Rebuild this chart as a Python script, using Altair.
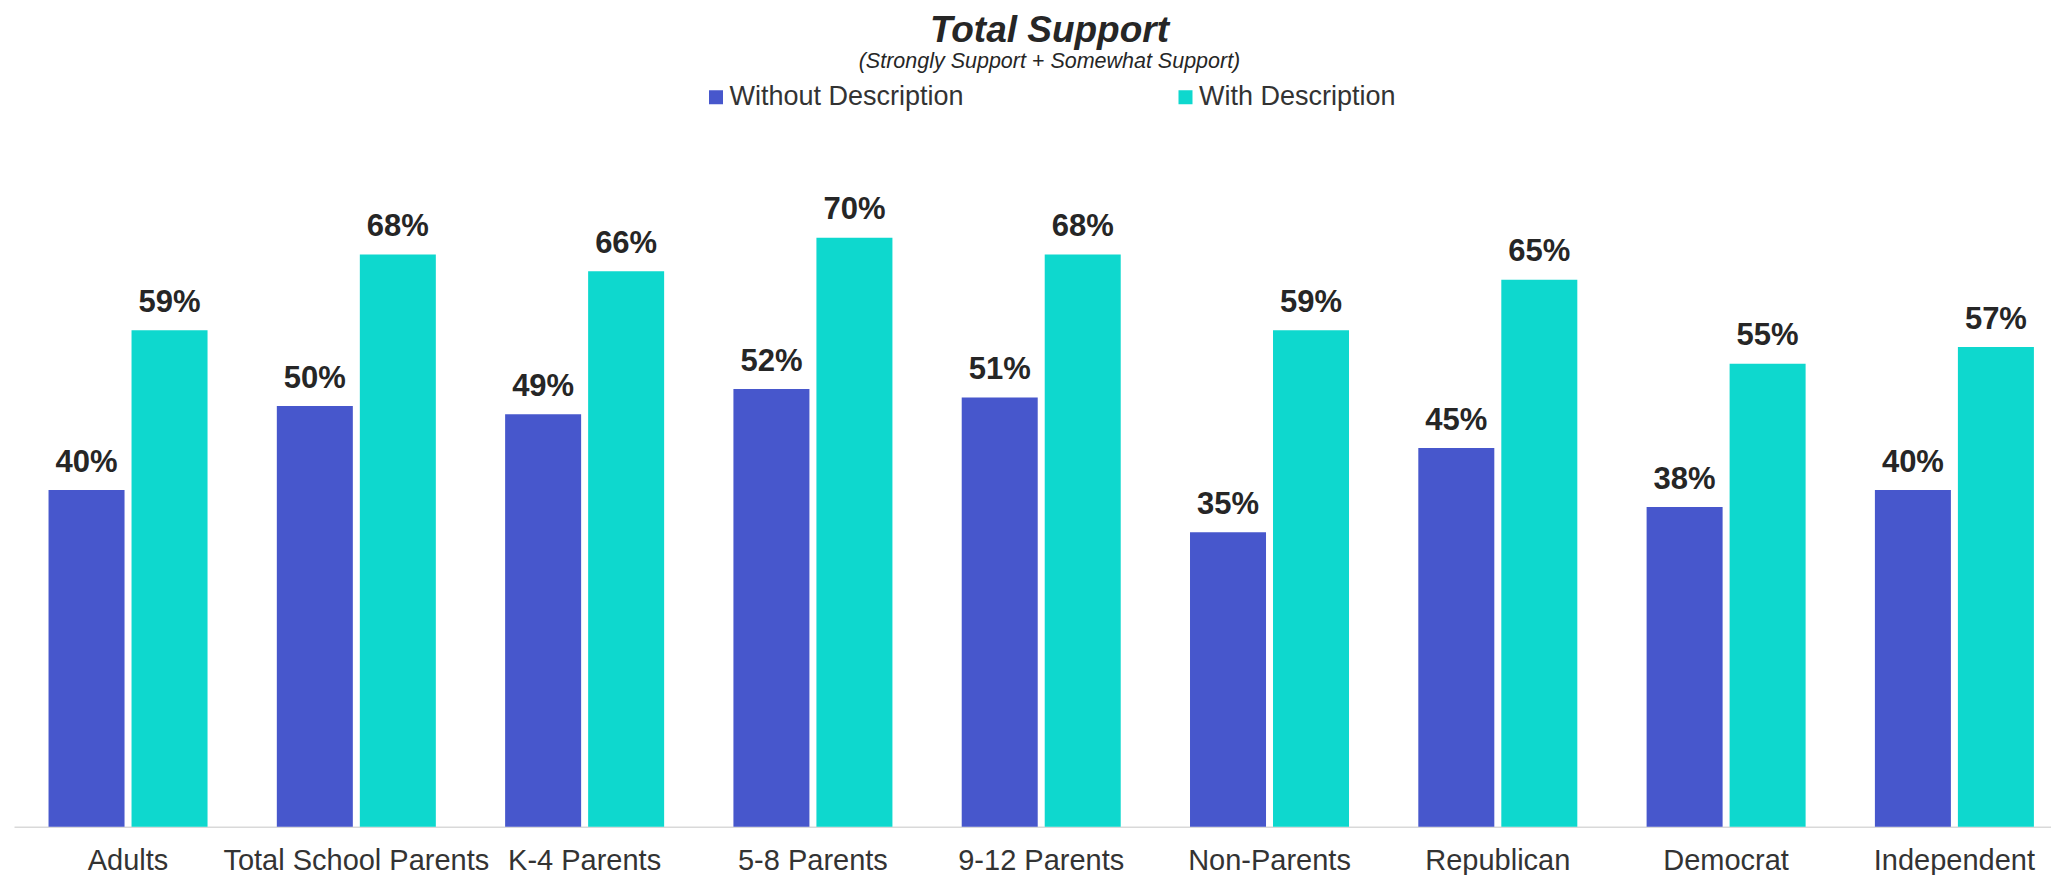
import altair as alt
import pandas as pd

categories = ["Adults", "Total School Parents", "K-4 Parents", "5-8 Parents",
              "9-12 Parents", "Non-Parents", "Republican", "Democrat", "Independent"]
series = ["Without Description", "With Description"]
without_desc = [40, 50, 49, 52, 51, 35, 45, 38, 40]
with_desc = [59, 68, 66, 70, 68, 59, 65, 55, 57]
colors = ["#4757CC", "#0ED8CE"]

rows = []
for i, c in enumerate(categories):
    rows.append({"group": c, "series": series[0], "value": without_desc[i] / 100})
    rows.append({"group": c, "series": series[1], "value": with_desc[i] / 100})
df = pd.DataFrame(rows)

FONT = "Liberation Sans, Arial, sans-serif"

x = alt.X("group:N", sort=categories, title=None,
          scale=alt.Scale(paddingInner=0.3035, paddingOuter=0.113, align=0.669),
          axis=alt.Axis(labelAngle=0, labelFontSize=29, labelFont=FONT, labelColor="#333333",
                        labelPadding=20, labelLimit=500, labelOverlap=False, labelBound=False,
                        ticks=False, domainColor="#d9d9d9", domainWidth=1.5, grid=False))
xo = alt.XOffset("series:N", sort=series,
                 scale=alt.Scale(paddingInner=0.0843, paddingOuter=0))
y = alt.Y("value:Q", scale=alt.Scale(domain=[0, 0.8], nice=False, zero=True), axis=None)

bars = alt.Chart(df).mark_bar().encode(
    x=x, xOffset=xo, y=y,
    color=alt.Color("series:N", sort=series,
                    scale=alt.Scale(domain=series, range=colors),
                    legend=alt.Legend(title=None, orient="none", legendX=688.5, legendY=-70,
                                      direction="horizontal", symbolType="square",
                                      symbolSize=196, symbolStrokeWidth=0,
                                      labelFontSize=27, labelFont=FONT, labelColor="#333333",
                                      labelOffset=0, columnPadding=207.5, labelLimit=500)),
)

labels = alt.Chart(df).mark_text(
    dy=-18.4, baseline="alphabetic", fontSize=31, fontWeight="bold",
    font=FONT, color="#262626"
).encode(x=x, xOffset=xo, y=y, text=alt.Text("value:Q", format=".0%"))

chart = alt.layer(bars, labels).properties(
    width=2037, height=673.2,
    title=alt.TitleParams(text="Total Support",
                          subtitle="(Strongly Support + Somewhat Support)",
                          font=FONT, fontSize=37, fontWeight="bold", fontStyle="italic",
                          color="#262626",
                          subtitleFont=FONT, subtitleFontSize=21.5, subtitleFontStyle="italic",
                          subtitleColor="#262626", subtitlePadding=1.5,
                          anchor="middle", offset=9.5, dx=17),
    autosize=alt.AutoSizeParams(type="none"),
    padding={"left": 6, "top": 145.5, "right": 0, "bottom": 50},
).configure_view(stroke=None)

chart.save("out.html", embed_options={"renderer": "svg", "actions": False})
